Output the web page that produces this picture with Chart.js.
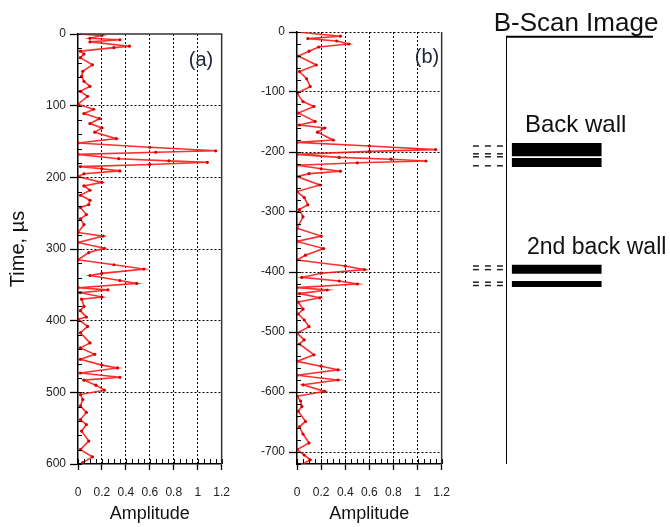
<!DOCTYPE html>
<html>
<head>
<meta charset="utf-8">
<script src="https://cdn.jsdelivr.net/npm/chart.js@4.4.0/dist/chart.umd.min.js"></script>
<style>
  html, body { margin: 0; padding: 0; background: #fff; }
  #wrap { position: relative; width: 670px; height: 527px; overflow: hidden; }
  canvas { position: absolute; top: 0; }
</style>
</head>
<body>
<div id="wrap">
  <canvas id="chart-a" width="245" height="527" style="left:0px"></canvas>
  <canvas id="chart-b" width="225" height="527" style="left:240px"></canvas>
  <canvas id="chart-scan" width="210" height="527" style="left:460px"></canvas>
</div>
<script>
//************ Data */

// panel (a): time (us) and amplitude at each vertex of the trace
const timeA = [0, 2, 6, 8, 11, 17, 19, 24, 28, 33, 43, 52, 59, 66, 73, 80, 87, 98,
  105, 111, 118, 125, 131, 137, 146, 152, 158, 163, 165, 168, 174, 177, 179, 182, 185,
  188, 191, 195, 199, 207, 212, 218, 225, 232, 238, 242, 252, 258, 266, 277, 282, 291,
  299, 305, 315, 322, 328, 334, 337, 344, 348, 354, 357, 361, 367, 370, 380, 386, 395,
  398, 408, 417, 431, 438, 447, 454, 462, 466, 473, 479, 483, 490, 497, 503, 510, 519,
  528, 538, 545, 554, 568, 580, 590, 598];
const ampA = [0, 0.2, 0.1, 0.35, 0.1, 0.43, 0.3, 0.02, 0.05, 0.02, 0.12, 0.04, 0.03, 0.05, 0.1, 0.02, 0.08, 0,
  0.13, 0.05, 0.18, 0.1, 0.2, 0.14, 0.32, 0, 0.6, 1.15, 0.65, 0, 0.34, 0.76, 1.08, 0.6, 0.02,
  0.2, 0.35, 0.05, 0, 0.2, 0.05, 0.1, 0.02, 0.1, 0.09, 0.02, 0.07, 0.02, 0.05, 0, 0.21, 0,
  0.22, 0.09, 0, 0.3, 0.55, 0.2, 0.1, 0.35, 0.49, 0, 0.25, 0.02, 0.2, 0.03, 0.05, 0.02, 0.07,
  0, 0.08, 0.02, 0.1, 0.02, 0.14, 0.02, 0.2, 0.33, 0.02, 0.35, 0.05, 0.15, 0.22, 0.02, 0.04, 0.02,
  0.07, 0.02, 0.07, 0.03, 0.09, 0.02, 0.12, 0.04];

// panel (b)
const timeB = [0, -7, -11, -15, -20, -25, -32, -40, -55, -66, -78, -91, -102, -116, -124, -135,
  -149, -155, -160, -167, -180, -184, -190, -196, -199, -204, -209, -212, -215, -218, -222,
  -228, -232, -236, -241, -255, -266, -276, -288, -296, -308, -327, -340, -349, -361, -372,
  -380, -390, -396, -402, -409, -415, -420, -426, -430, -436, -443, -450, -462, -470, -480,
  -491, -502, -513, -520, -538, -549, -557, -563, -572, -580, -588, -599, -607, -615, -624,
  -632, -649, -658, -670, -685, -696, -705, -713, -721];
const ampB = [0, 0.36, 0.09, 0.33, 0.43, 0.18, 0.1, 0.01, 0.16, 0.02, 0.08, 0.11, 0, 0.05, 0.14, 0.01,
  0.15, 0.02, 0.23, 0.17, 0.3, 0, 0.6, 1.15, 0.6, 0, 0.35, 0.78, 1.07, 0.5, 0,
  0.2, 0.36, 0.1, 0, 0.19, 0, 0.06, 0.09, 0.02, 0.05, 0, 0.2, 0, 0.22, 0.07,
  0, 0.4, 0.56, 0.2, 0.04, 0.35, 0.5, 0, 0.25, 0.02, 0.19, 0.01, 0.05, 0.01, 0.06,
  0.1, 0, 0.06, 0.02, 0.14, 0, 0.2, 0.34, 0, 0.34, 0.05, 0.23, 0, 0.03, 0.04,
  0.01, 0.07, 0.02, 0.05, 0.1, 0, 0.06, 0.11, 0.04];

// tick labels
const ampTicks = [0, 0.2, 0.4, 0.6, 0.8, 1, 1.2];
const timeTicksA = [0, 100, 200, 300, 400, 500, 600];
const timeTicksB = [0, -100, -200, -300, -400, -500, -600, -700];

// B-scan: echo start / end times (same time axis as (b)) and the dashed marker times
const echoStart = [-185, -210, -388, -415];
const echoEnd = [-207, -225, -403, -425];
const markerTimes = [-190, -203, -208, -223, -390, -396, -417, -422.5];

Chart.defaults.font.family = "'Liberation Sans', Arial, sans-serif";
Chart.defaults.color = '#222';

//******** plugins */
const panelExtras = {
    id: 'panelExtras',
    afterDraw(chart, args, opts) {
        const {ctx, chartArea: ca, scales: {x, y}} = chart;
        ctx.save();
        // minor ticks, pointing inside
        ctx.strokeStyle = '#000';
        ctx.lineWidth = 1;
        ctx.beginPath();
        for (let v = x.min; v <= x.max + 1e-9; v += opts.xStep) {
            const px = Math.round(x.getPixelForValue(v)) + 0.5;
            ctx.moveTo(px, ca.bottom);
            ctx.lineTo(px, ca.bottom - 5);
        }
        for (let v = y.min; v <= y.max + 1e-9; v += opts.yStep) {
            const py = Math.round(y.getPixelForValue(v)) + 0.5;
            ctx.moveTo(ca.left, py);
            ctx.lineTo(ca.left + 4, py);
        }
        ctx.stroke();
        // frame
        ctx.strokeStyle = '#333';
        ctx.lineWidth = 1.5;
        ctx.beginPath();
        ctx.moveTo(ca.right, ca.bottom);
        ctx.lineTo(ca.right, ca.top);
        if (opts.topLine) ctx.lineTo(ca.left, ca.top);
        ctx.stroke();
        // panel letter
        ctx.fillStyle = '#1c2533';
        ctx.font = "20px 'Liberation Sans', Arial, sans-serif";
        ctx.textAlign = 'center';
        ctx.textBaseline = 'middle';
        ctx.fillText(opts.letter, opts.letterX, opts.letterY);
        ctx.restore();
    }
};

const scanText = {
    id: 'scanText',
    afterDraw(chart) {
        const {ctx} = chart;
        ctx.save();
        ctx.fillStyle = '#111';
        ctx.font = "26px 'Liberation Sans', Arial, sans-serif";
        ctx.textAlign = 'center';
        ctx.textBaseline = 'alphabetic';
        ctx.fillText('B-Scan Image', 116, 31);
        ctx.font = "24px 'Liberation Sans', Arial, sans-serif";
        ctx.textAlign = 'left';
        ctx.fillText('Back wall', 65, 132);
        ctx.font = "23px 'Liberation Sans', Arial, sans-serif";
        ctx.fillText('2nd back wall', 67, 254);
        ctx.restore();
    }
};

//******** options */
function setTicks(list) {
    return function(scale) {
        scale.ticks = list.map(v => ({value: v}));
    };
}

function gridColor(hidden) {
    return function(c) {
        if (c.tick && hidden.indexOf(c.tick.value) >= 0) return 'rgba(0,0,0,0)';
        return '#000';
    };
}

function optionsGen(cfg) {
    return {
        responsive: false,
        animation: false,
        layout: { padding: cfg.padding },
        plugins: {
            legend: { display: false },
            tooltip: { enabled: false },
            panelExtras: cfg.extras
        },
        scales: {
            x: {
                type: 'linear',
                min: 0,
                max: 1.2,
                afterBuildTicks: setTicks(ampTicks),
                afterFit: (s) => { s.height = 63; },
                ticks: {
                    font: { size: 12 },
                    padding: 15,
                    callback: (v) => String(v)
                },
                grid: {
                    color: gridColor([0, 1.2]),
                    lineWidth: 1,
                    tickColor: '#000',
                    tickLength: 6,
                    tickWidth: 1.3
                },
                border: { display: true, color: '#000', width: 1.5, dash: [2, 2] },
                title: {
                    display: true,
                    text: 'Amplitude',
                    font: { size: 18 },
                    color: '#111',
                    padding: { top: 0, bottom: 2 }
                }
            },
            y: {
                type: 'linear',
                min: cfg.yMin,
                max: cfg.yMax,
                reverse: cfg.reverse,
                afterBuildTicks: setTicks(cfg.yTicks),
                afterFit: (s) => { s.width = cfg.yWidth; },
                ticks: {
                    font: { size: 12 },
                    padding: 4,
                    callback: (v) => String(v)
                },
                grid: {
                    color: gridColor(cfg.yHidden),
                    lineWidth: 1,
                    tickColor: '#000',
                    tickLength: 8,
                    tickWidth: 1.3
                },
                border: { display: true, color: '#000', width: 1.5, dash: [2, 2] },
                title: {
                    display: cfg.yTitle !== '',
                    text: cfg.yTitle,
                    font: { size: 20 },
                    color: '#111',
                    padding: { top: 6, bottom: 0 }
                }
            }
        }
    };
}

function traceSet(times, amps) {
    return {
        data: times.map((t, i) => ({x: amps[i], y: t})),
        showLine: true,
        borderColor: 'rgba(255, 10, 10, 0.85)',
        borderWidth: 1.6,
        pointRadius: 1.6,
        pointBorderWidth: 0,
        pointBackgroundColor: '#d80000',
        tension: 0
    };
}

// ********* RENDER CHARTS ********
new Chart(document.getElementById('chart-a').getContext('2d'), {
    type: 'scatter',
    data: { datasets: [traceSet(timeA, ampA)] },
    options: optionsGen({
        padding: { left: 0, right: 12, top: 34, bottom: 0 },
        yMin: 0, yMax: 600, reverse: true,
        yTicks: timeTicksA, yHidden: [0, 600], yWidth: 78,
        yTitle: 'Time, µs',
        extras: { xStep: 0.05, yStep: 20, topLine: true, letter: '(a)', letterX: 201, letterY: 60 }
    }),
    plugins: [panelExtras]
});

new Chart(document.getElementById('chart-b').getContext('2d'), {
    type: 'scatter',
    data: { datasets: [traceSet(timeB, ampB)] },
    options: optionsGen({
        padding: { left: 0, right: 12, top: 32, bottom: 0 },
        yMin: -720, yMax: 0, reverse: false,
        yTicks: timeTicksB, yHidden: [], yWidth: 57,
        yTitle: '',
        extras: { xStep: 0.05, yStep: 20, topLine: false, letter: '(b)', letterX: 187, letterY: 57 }
    }),
    plugins: [panelExtras]
});

// --B-scan sketch, on the same time axis as (b)
const scanSets = [];
scanSets.push({
    data: [{x: 0, y: -722}, {x: 0, y: -8}, {x: 100, y: -8}],
    showLine: true, borderColor: '#000', borderWidth: 2, pointRadius: 0
});
echoStart.forEach((t0, i) => {
    const t1 = echoEnd[i];
    scanSets.push({
        data: [{x: 4, y: t0}, {x: 65, y: t0}, {x: 65, y: t1}, {x: 4, y: t1}, {x: 4, y: t0}],
        showLine: true, borderWidth: 0, borderColor: '#000',
        backgroundColor: '#000', fill: 'shape', pointRadius: 0
    });
});
markerTimes.forEach((t) => {
    scanSets.push({
        data: [{x: -22.5, y: t}, {x: 1, y: t}],
        showLine: true, borderColor: '#222', borderWidth: 1.5,
        borderDash: [6, 6], pointRadius: 0, clip: false
    });
});

new Chart(document.getElementById('chart-scan').getContext('2d'), {
    type: 'scatter',
    data: { datasets: scanSets },
    options: {
        responsive: false,
        animation: false,
        layout: { padding: { left: 46, right: 17, top: 32, bottom: 63 } },
        plugins: { legend: { display: false }, tooltip: { enabled: false } },
        scales: {
            x: { type: 'linear', min: 0, max: 100, display: false },
            y: { type: 'linear', min: -720, max: 0, display: false }
        }
    },
    plugins: [scanText]
});
</script>
</body>
</html>
